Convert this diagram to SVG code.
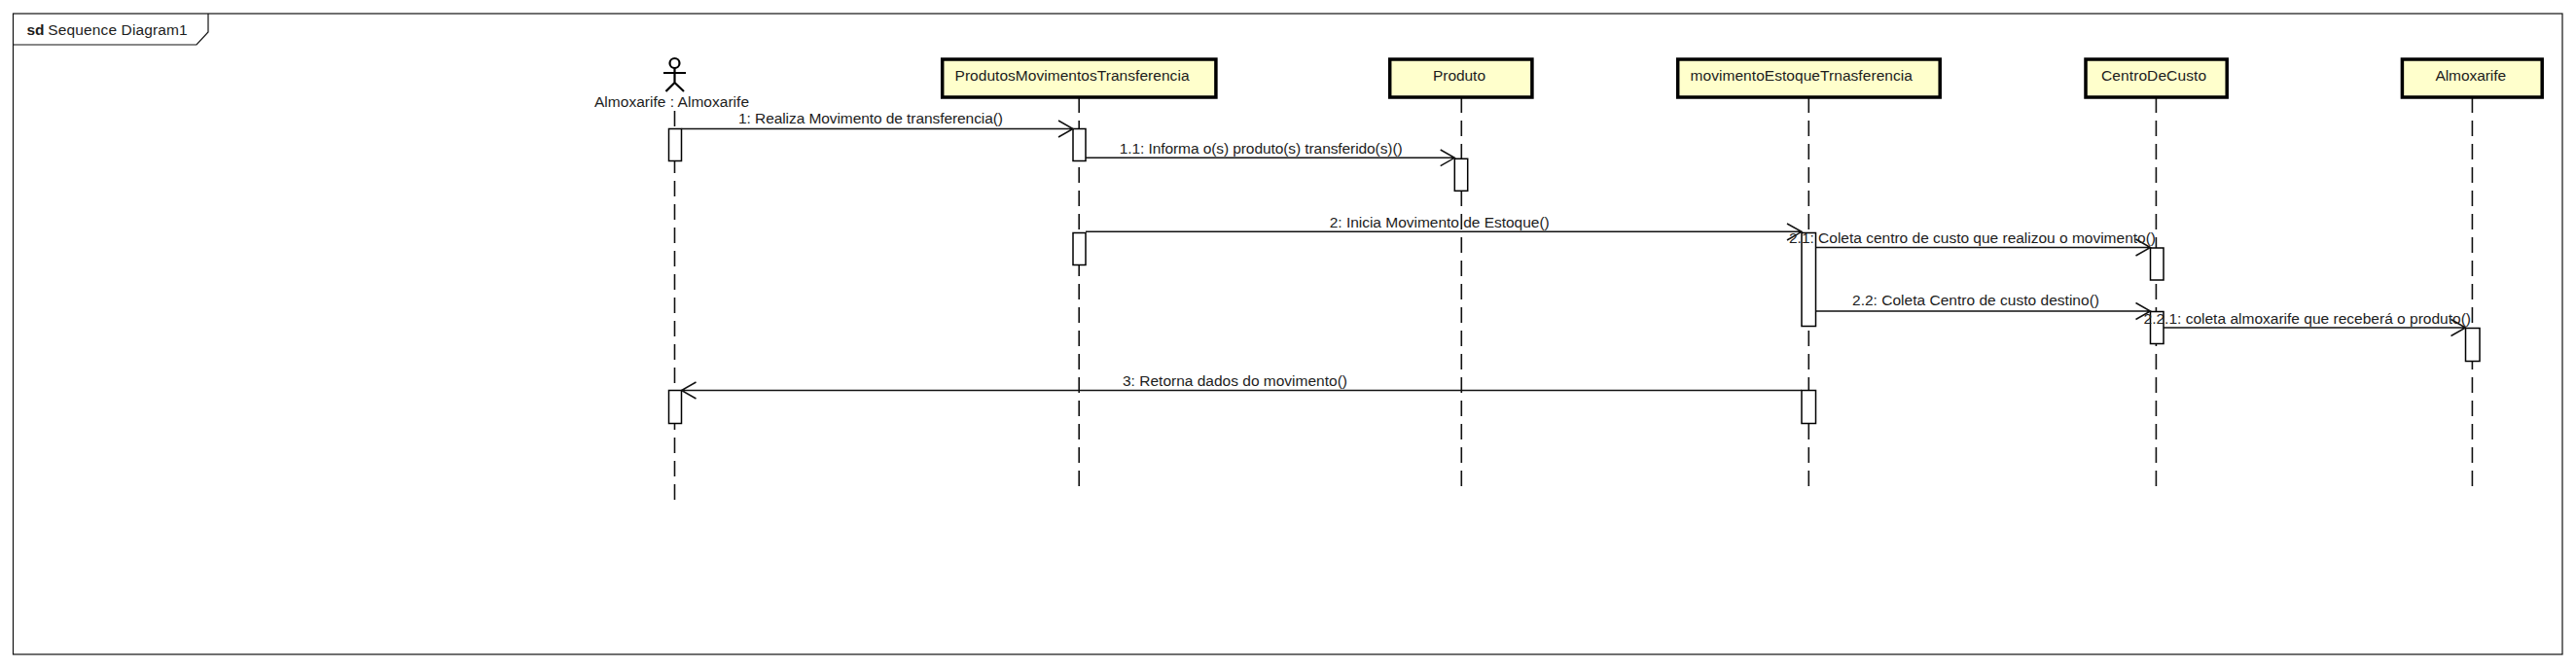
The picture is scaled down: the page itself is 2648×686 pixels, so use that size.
<svg xmlns="http://www.w3.org/2000/svg" width="2648" height="686" viewBox="0 0 2648 686">
<style>
text{font-family:"Liberation Sans",Arial,sans-serif;font-size:15.5px;fill:#1c1c1c}
.sd{font-weight:bold}
.box{fill:#ffffcc;stroke:#000;stroke-width:3.5}
.life{stroke:#111;stroke-width:1.6;stroke-dasharray:16 8;fill:none}
.act{fill:#fff;stroke:#000;stroke-width:1.5}
.msg{stroke:#111;stroke-width:1.5;fill:none}
.actor{stroke:#000;stroke-width:2.2;fill:none}
</style>
<rect width="2648" height="686" fill="#fff"/>
<g id="frame">
<rect x="13.500" y="14" width="2620.500" height="659" fill="none" stroke="#111" stroke-width="1.200"/>
<path d="M13.500 46H202L214 33V14" fill="none" stroke="#111" stroke-width="1.200"/>
<text class="sd" x="27.500" y="36" textLength="18">sd</text>
<text x="49.300" y="36" textLength="143.400">Sequence Diagram1</text>
</g>
<g id="lifelines">
<path class="life" d="M693.500 114V514"/>
<path class="life" d="M1109.200 100V500"/>
<path class="life" d="M1502.300 100V500"/>
<path class="life" d="M1859.300 100V500"/>
<path class="life" d="M2216.400 100V500"/>
<path class="life" d="M2541.400 100V500"/>
</g>
<g id="actor-almoxarife">
<circle class="actor" cx="693.500" cy="65" r="5"/>
<path class="actor" d="M693.500 70V85M682 75H705M684.500 94L693.500 85L703 94"/>
<text x="611" y="110" textLength="159">Almoxarife : Almoxarife</text>
<rect class="act" x="687.500" y="132.500" width="13" height="33"/>
<rect class="act" x="687.500" y="401.500" width="13" height="34"/>
</g>
<g id="node-produtos">
<rect class="box" x="968.700" y="61" width="281.200" height="39"/>
<text x="981.500" y="83" textLength="241">ProdutosMovimentosTransferencia</text>
<rect class="act" x="1103" y="132.500" width="13" height="33"/>
<rect class="act" x="1103" y="239.500" width="13" height="33"/>
</g>
<g id="node-produto">
<rect class="box" x="1428.700" y="61" width="146.200" height="39"/>
<text x="1473" y="83" textLength="54">Produto</text>
<rect class="act" x="1495.300" y="163.300" width="13.400" height="33"/>
</g>
<g id="node-movimento">
<rect class="box" x="1724.700" y="61" width="269.500" height="39"/>
<text x="1737.500" y="83" textLength="228.400">movimentoEstoqueTrnasferencia</text>
<rect class="act" x="1852" y="239.500" width="14.500" height="96"/>
<rect class="act" x="1852" y="401.500" width="14.500" height="34"/>
</g>
<g id="node-centro">
<rect class="box" x="2144" y="61" width="145.200" height="39"/>
<text x="2160" y="83" textLength="108">CentroDeCusto</text>
<rect class="act" x="2210.500" y="255" width="13.500" height="33"/>
<rect class="act" x="2210.500" y="320.500" width="13.500" height="33"/>
</g>
<g id="node-almoxarife">
<rect class="box" x="2469.400" y="61" width="143.800" height="39"/>
<text x="2503.500" y="83" textLength="72.500">Almoxarife</text>
<rect class="act" x="2534.500" y="337.500" width="14.500" height="34"/>
</g>
<g id="connectors">
<path class="msg" d="M700.500 132.500H1103M1088 124L1103 132.500L1088 141"/>
<text x="759" y="126.500" textLength="272">1: Realiza Movimento de transferencia()</text>
<path class="msg" d="M1116 162.300H1495.300M1480.700 154L1495.300 162.300L1480.700 170.700"/>
<text x="1150.700" y="157.500" textLength="291">1.1: Informa o(s) produto(s) transferido(s)()</text>
<path class="msg" d="M1116 238.300H1852M1837 230L1852 238.300L1837 247"/>
<text x="1366.700" y="233.500" textLength="226">2: Inicia Movimento de Estoque()</text>
<path class="msg" d="M1866.500 254.500H2210.500M2195.500 246L2210.500 254.500L2195.500 263"/>
<text x="1839" y="249.500" textLength="377">2.1: Coleta centro de custo que realizou o movimento()</text>
<path class="msg" d="M1866.500 320H2210.500M2195.500 311.500L2210.500 320L2195.500 328.500"/>
<text x="1904" y="314" textLength="254">2.2: Coleta Centro de custo destino()</text>
<path class="msg" d="M2224 337H2534.500M2519.500 328.500L2534.500 337L2519.500 345.500"/>
<text x="2203.500" y="332.700" textLength="336.500">2.2.1: coleta almoxarife que receberá o produto()</text>
<path class="msg" d="M1852 401.500H700.500M715.500 393L700.500 401.500L715.500 410"/>
<text x="1154" y="396.500" textLength="231">3: Retorna dados do movimento()</text>
</g>
</svg>
